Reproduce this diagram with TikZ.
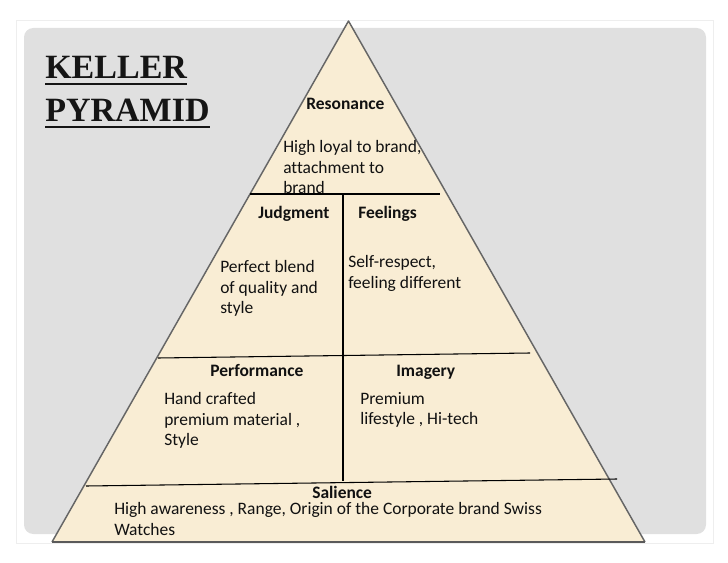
\documentclass[tikz,border=0pt]{standalone}
\usepackage{fontspec}
\setmainfont[Ligatures=NoCommon]{Carlito}
\newfontfamily\titlefont{Liberation Serif}
\definecolor{bggray}{HTML}{E0E0E0}
\definecolor{framegray}{HTML}{EEEEEE}
\definecolor{pyrfill}{HTML}{F9EDD4}
\definecolor{pyredge}{HTML}{666666}
\definecolor{baseedge}{HTML}{5A5A5A}
\definecolor{inkcol}{HTML}{111111}
\definecolor{titlecol}{HTML}{151515}
\tikzset{
  head/.style={font=\bfseries\fontsize{13.1pt}{15.5pt}\selectfont, inner sep=0pt, anchor=base west, text=inkcol},
  body/.style={font=\fontsize{13.1pt}{15.5pt}\selectfont, inner sep=0pt, anchor=north west, align=left, text=inkcol},
  titletext/.style={font=\titlefont\bfseries\fontsize{25.5pt}{30pt}\selectfont, inner sep=0pt, anchor=base west, text=titlecol},
  divider/.style={draw=black, line width=0.8pt},
  uline/.style={draw=titlecol, line width=1.5pt}
}
\begin{document}
\begin{tikzpicture}[x=0.75pt,y=-0.75pt]
\useasboundingbox (0,0) rectangle (728,563);
\fill[white] (0,0) rectangle (728,563);
\draw[framegray, line width=0.6pt] (16,20) rectangle (713,543);
\fill[bggray, rounded corners=7pt] (24,28) rectangle (706,534);

% pyramid
\coordinate (apex) at (348.5,21);
\coordinate (bl) at (52,542);
\coordinate (br) at (645,542);
\fill[pyrfill] (apex) -- (br) -- (bl) -- cycle;
\draw[pyredge, line width=1.1pt, line join=round] (bl) -- (apex) -- (br);
\draw[baseedge, line width=1.6pt] (bl) -- (br);

% dividers
\coordinate (d1a) at (250,194);
\coordinate (d1b) at (440,194);
\coordinate (vt) at (343,194);
\coordinate (vb) at (343,481);
\coordinate (d2a) at (158,358);
\coordinate (d2b) at (530,353);
\coordinate (d3a) at (86,486);
\coordinate (d3b) at (617,479);
\draw[divider] (d1a) -- (d1b);
\draw[divider] (vt) -- (vb);
\draw[divider] (d2a) -- (d2b);
\draw[divider] (d3a) -- (d3b);

% title
\node[titletext] (keller) at (45,79) {KELLER};
\node[titletext] (pyramid) at (45,122) {PYRAMID};
\draw[uline] ([yshift=-3.5pt]keller.base west) -- ([yshift=-3.5pt]keller.base east);
\draw[uline] ([yshift=-3.5pt]pyramid.base west) -- ([yshift=-3.5pt]pyramid.base east);

% resonance
\node[head] (reson) at (306,110) {Resonance};
\node[body] (resonbody) at (283,140) {High loyal to brand,\\attachment to\\brand};

% judgment / feelings
\node[head] (judg) at (258,219) {Judgment};
\node[head] (feel) at (358,219) {Feelings};
\node[body] (judgbody) at (220,260) {Perfect blend\\of quality and\\style};
\node[body] (feelbody) at (348,255) {Self-respect,\\feeling different};

% performance / imagery
\node[head] (perf) at (210,376) {Performance};
\node[head] (imag) at (396,376) {Imagery};
\node[body] (perfbody) at (164,392) {Hand crafted\\premium material ,\\Style};
\node[body] (imagbody) at (360,392) {Premium\\lifestyle , Hi-tech};

% salience
\node[head] (sal) at (312,498) {Salience};
\node[body] (salbody) at (114,502) {High awareness , Range, Origin of the Corporate brand Swiss\\Watches};
\end{tikzpicture}
\end{document}
